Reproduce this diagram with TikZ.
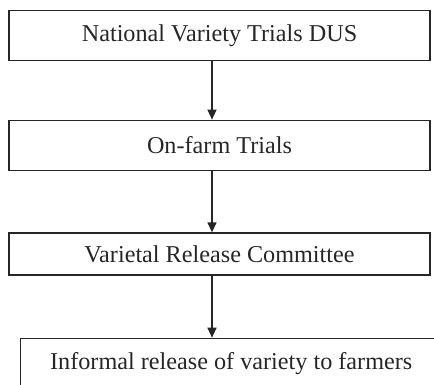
\documentclass[tikz,border=0pt]{standalone}
\usepackage{fontspec}
\setmainfont{Liberation Serif}
\usetikzlibrary{arrows.meta}
\begin{document}
\begin{tikzpicture}[x=1pt,y=-1pt,
  stagebox/.style={draw=black!85, line width=1.3pt, rectangle,
    minimum width=421pt, minimum height=50pt, inner sep=0pt,
    font=\fontsize{24.2}{28}\selectfont, text=black!85},
  flow/.style={draw=black!85, line width=1.3pt,
    -{Triangle[length=10pt,width=9pt]}}]
  \useasboundingbox (0,0) rectangle (434,384);
  \clip (0,0) rectangle (434,384);
  \node[stagebox] (b1) at (219.5,35.5) {National Variety Trials DUS};
  \node[stagebox] (b2) at (219.5,145.3) {On-farm Trials};
  \node[stagebox, minimum height=42pt] (b3) at (219.5,254) {Varietal Release Committee};
  \node[stagebox] (b4) at (231.2,363.3) {Informal release of variety to farmers};
  \coordinate (ax) at (212,0);
  \draw[flow] (ax |- b1.south) -- (ax |- b2.north);
  \draw[flow] (ax |- b2.south) -- (ax |- b3.north);
  \draw[flow] (ax |- b3.south) -- (ax |- b4.north);
\end{tikzpicture}
\end{document}
